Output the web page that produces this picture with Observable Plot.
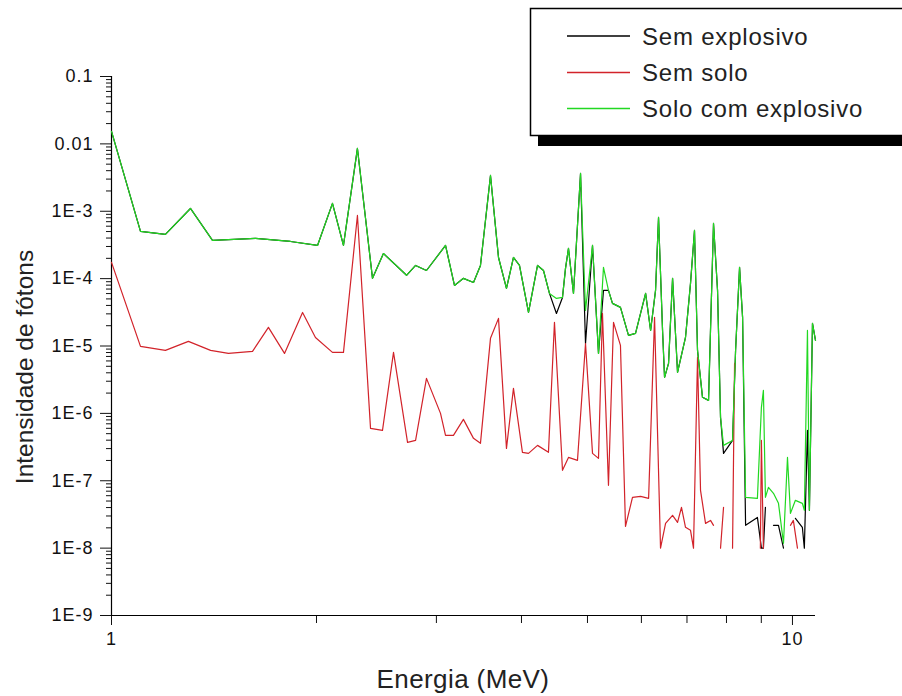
<!DOCTYPE html>
<html>
<head>
<meta charset="utf-8">
<script src="https://cdn.jsdelivr.net/npm/d3@7"></script>
<script src="https://cdn.jsdelivr.net/npm/@observablehq/plot@0.6"></script>
<style>
  html, body { margin: 0; padding: 0; background: #fff; }
  #chart { width: 902px; height: 696px; }
</style>
</head>
<body>
<div id="chart"></div>
<script>
// ---- Data ----
const seriesNames = ["Sem explosivo", "Sem solo", "Solo com explosivo"];
const seriesColors = ["#000000", "#d2232a", "#22d822"];

// Energy grid shared by "Solo com explosivo" and "Sem explosivo" (MeV)
const energyComSolo = [1.000,1.103,1.200,1.306,1.407,1.627,1.832,2.007,2.111,2.191,
  2.297,2.417,2.508,2.712,2.796,2.901,3.094,3.189,3.287,3.401,
  3.482,3.602,3.701,3.802,3.893,3.973,4.096,4.223,4.309,4.397,
  4.502,4.595,4.642,4.689,4.769,4.884,4.967,5.086,5.190,5.278,
  5.368,5.441,5.590,5.744,5.882,6.086,6.190,6.294,6.358,6.445,
  6.489,6.577,6.667,6.780,6.965,7.084,7.180,7.254,7.377,7.529,
  7.657,7.762,7.841,7.921,8.166,8.250,8.362,8.448,8.534,8.882,
  9.003,9.064,9.126,9.220,9.378,9.538,9.701,9.833,9.932,10.10,
  10.34,10.41,10.52,10.59,10.70,10.81];

const soloComExplosivo = [1.53e-2,5.02e-4,4.53e-4,1.10e-3,3.69e-4,3.95e-4,3.56e-4,3.11e-4,1.31e-3,3.11e-4,
  8.55e-3,1.01e-4,2.36e-4,1.12e-4,1.57e-4,1.32e-4,3.11e-4,7.93e-5,1.01e-4,8.78e-5,
  1.57e-4,3.40e-3,2.06e-4,7.15e-5,2.06e-4,1.57e-4,3.15e-5,1.57e-4,1.32e-4,6.03e-5,
  5.08e-5,5.26e-5,1.42e-4,2.81e-4,6.03e-5,3.64e-3,3.37e-5,3.11e-4,7.77e-6,1.47e-4,
  6.68e-5,4.29e-5,3.74e-5,1.44e-5,1.54e-5,6.03e-5,1.70e-5,6.68e-5,8.09e-4,1.70e-5,
  3.42e-6,5.52e-6,1.01e-4,4.06e-6,1.34e-5,8.49e-5,5.19e-4,8.60e-6,1.73e-6,1.56e-6,
  6.59e-4,6.68e-5,8.72e-7,3.35e-7,3.97e-7,8.60e-6,1.47e-4,2.66e-5,5.67e-8,5.48e-8,
  1.23e-6,2.19e-6,5.67e-8,7.98e-8,6.50e-8,4.62e-8,1.18e-8,2.22e-7,3.28e-8,5.12e-8,
  4.62e-8,3.64e-8,1.70e-5,3.64e-8,2.16e-5,1.21e-5];

// null = no value (line break)
const semExplosivo = [1.53e-2,5.02e-4,4.53e-4,1.10e-3,3.69e-4,3.95e-4,3.56e-4,3.11e-4,1.31e-3,3.11e-4,
  8.55e-3,1.01e-4,2.36e-4,1.12e-4,1.57e-4,1.32e-4,3.11e-4,7.93e-5,1.01e-4,8.78e-5,
  1.57e-4,3.40e-3,2.06e-4,7.15e-5,2.06e-4,1.57e-4,3.15e-5,1.57e-4,1.32e-4,6.03e-5,
  3.04e-5,5.26e-5,1.42e-4,2.81e-4,6.03e-5,3.64e-3,1.09e-5,3.11e-4,7.77e-6,6.68e-5,
  6.68e-5,4.29e-5,3.74e-5,1.44e-5,1.54e-5,6.03e-5,1.70e-5,6.68e-5,8.09e-4,1.70e-5,
  3.42e-6,5.52e-6,1.01e-4,4.06e-6,1.34e-5,8.49e-5,5.19e-4,8.60e-6,1.73e-6,1.56e-6,
  6.59e-4,6.68e-5,8.72e-7,2.55e-7,3.97e-7,8.60e-6,1.47e-4,2.66e-5,2.18e-8,2.86e-8,
  1e-8,1e-8,4.03e-8,null,2.18e-8,2.18e-8,1e-8,null,null,2.77e-8,
  2.04e-8,1e-8,5.59e-7,3.64e-8,2.16e-5,1.21e-5];

const energySemSolo = [1.000,1.103,1.200,1.297,1.398,1.485,1.611,1.700,1.795,1.908,
  1.993,2.111,2.191,2.297,2.401,2.500,2.595,2.721,2.796,2.901,
  3.042,3.094,3.178,3.287,3.401,3.482,3.602,3.701,3.802,3.893,
  4.013,4.096,4.223,4.382,4.472,4.595,4.689,4.834,4.967,5.086,
  5.190,5.260,5.368,5.460,5.590,5.686,5.822,5.984,6.148,6.273,
  6.401,6.511,6.667,6.780,6.871,6.965,7.084,7.156,7.254,7.328,
  7.453,7.580,7.657,7.735,7.841,7.921,8.029,8.166,8.222,8.448,
  8.972,9.003,9.064,9.220,9.932,10.03,10.17];

const semSolo = [1.74e-4,9.86e-6,8.60e-6,1.17e-5,8.60e-6,7.77e-6,8.32e-6,1.89e-5,7.77e-6,3.15e-5,
  1.34e-5,8.04e-6,8.04e-6,8.66e-4,5.99e-7,5.59e-7,8.04e-6,3.71e-7,3.97e-7,3.31e-6,
  1.00e-6,4.72e-7,4.72e-7,8.15e-7,4.26e-7,3.59e-7,1.30e-5,2.57e-5,3.02e-7,2.35e-6,
  2.64e-7,2.55e-7,3.35e-7,2.64e-7,2.24e-5,1.43e-7,2.22e-7,2.01e-7,1.09e-5,2.55e-7,
  2.15e-7,3.04e-5,8.55e-8,2.24e-5,1.02e-5,2.10e-8,5.67e-8,5.87e-8,5.48e-8,2.66e-5,
  1e-8,2.33e-8,3.07e-8,2.41e-8,4.03e-8,2.04e-8,1.84e-8,1e-8,6.77e-6,7.20e-8,
  2.33e-8,2.58e-8,2.18e-8,null,1e-8,4.03e-8,null,1e-8,5.52e-6,null,
  1e-8,3.97e-7,1e-8,null,2.18e-8,2.58e-8,1e-8];

// Axis ticks
const yTickValues = [0.1, 0.01, 1e-3, 1e-4, 1e-5, 1e-6, 1e-7, 1e-8, 1e-9];
const yTickLabels = ["0.1", "0.01", "1E-3", "1E-4", "1E-5", "1E-6", "1E-7", "1E-8", "1E-9"];
const xTickValues = [1, 10];
const xTickLabels = ["1", "10"];
const xDomain = [1, 10.81];
const yDomain = [1e-9, 0.1];
const xTitle = "Energia (MeV)";
const yTitle = "Intensidade de fótons";

// ---- Build tables ----
const toRows = (xs, ys, name) => xs.map((x, i) => ({energy: x, value: ys[i] == null ? NaN : ys[i], series: name}));
const rowsBlack = toRows(energyComSolo, semExplosivo, seriesNames[0]);
const rowsRed = toRows(energySemSolo, semSolo, seriesNames[1]);
const rowsGreen = toRows(energyComSolo, soloComExplosivo, seriesNames[2]);

const yMinor = [];
for (let e = -9; e < -1; e++) for (let k = 2; k <= 9; k++) yMinor.push(k * Math.pow(10, e));
const xMinor = [2, 3, 4, 5, 6, 7, 8, 9];
const yFmt = new Map(yTickValues.map((v, i) => [v, yTickLabels[i]]));
const xFmt = new Map(xTickValues.map((v, i) => [v, xTickLabels[i]]));

const font = "'Liberation Sans', Arial, sans-serif";

const chart = Plot.plot({
  width: 902,
  height: 696,
  marginLeft: 111,
  marginRight: 87,
  marginTop: 76,
  marginBottom: 81,
  style: {fontFamily: font, background: "#fff", color: "#111"},
  x: {type: "log", domain: xDomain, label: null},
  y: {type: "log", domain: yDomain, label: null},
  marks: [
    Plot.axisY({ticks: yMinor, tickSize: 5, tickFormat: () => "", label: null, strokeWidth: 1}),
    Plot.axisY({ticks: yTickValues, tickSize: 11, tickPadding: 7, tickFormat: v => yFmt.get(v), fontSize: 18, label: null, strokeWidth: 1}),
    Plot.axisX({ticks: xMinor, tickSize: 8, tickFormat: () => "", label: null, strokeWidth: 1}),
    Plot.axisX({ticks: xTickValues, tickSize: 10, tickPadding: 7, tickFormat: v => xFmt.get(v), fontSize: 18, label: null, strokeWidth: 1}),
    Plot.ruleX([xDomain[0]], {y1: yDomain[0], y2: yDomain[1], stroke: "#000", strokeWidth: 1.2}),
    Plot.ruleY([yDomain[0]], {x1: xDomain[0], x2: xDomain[1], stroke: "#000", strokeWidth: 1.2}),
    Plot.line(rowsBlack, {x: "energy", y: "value", stroke: seriesColors[0], strokeWidth: 1.2}),
    Plot.line(rowsRed, {x: "energy", y: "value", stroke: seriesColors[1], strokeWidth: 1.2}),
    Plot.line(rowsGreen, {x: "energy", y: "value", stroke: seriesColors[2], strokeWidth: 1.2})
  ]
});

document.getElementById("chart").appendChild(chart);

const svg = d3.select(chart);
svg.selectAll("g[aria-label='y-axis tick label'] text, g[aria-label='x-axis tick label'] text")
  .style("letter-spacing", "1px");

// Axis titles
svg.append("text")
  .attr("x", 463).attr("y", 688)
  .attr("text-anchor", "middle")
  .style("font-family", font).style("font-size", "26px").style("letter-spacing", "0.4px")
  .attr("fill", "#222")
  .text(xTitle);
svg.append("text")
  .attr("transform", "translate(33,367) rotate(-90)")
  .attr("text-anchor", "middle")
  .style("font-family", font).style("font-size", "24.5px")
  .attr("fill", "#222")
  .text(yTitle);

// Legend box with drop shadow
const leg = svg.append("g");
leg.append("rect").attr("x", 538).attr("y", 18).attr("width", 420).attr("height", 128).attr("fill", "#000");
leg.append("rect").attr("x", 530.5).attr("y", 8.5).attr("width", 420).attr("height", 127)
  .attr("fill", "#fff").attr("stroke", "#000").attr("stroke-width", 1.5);
const rowsY = [36, 72.5, 108.5];
seriesNames.forEach((name, i) => {
  leg.append("line").attr("x1", 567).attr("x2", 630).attr("y1", rowsY[i]).attr("y2", rowsY[i])
    .attr("stroke", seriesColors[i]).attr("stroke-width", 1.3);
  leg.append("text").attr("x", 642).attr("y", rowsY[i] + 8.5)
    .attr("text-anchor", "start")
    .style("text-anchor", "start")
    .style("font-family", font).style("font-size", "24px").style("letter-spacing", "0.8px")
    .attr("fill", "#222")
    .text(name);
});
</script>
</body>
</html>
